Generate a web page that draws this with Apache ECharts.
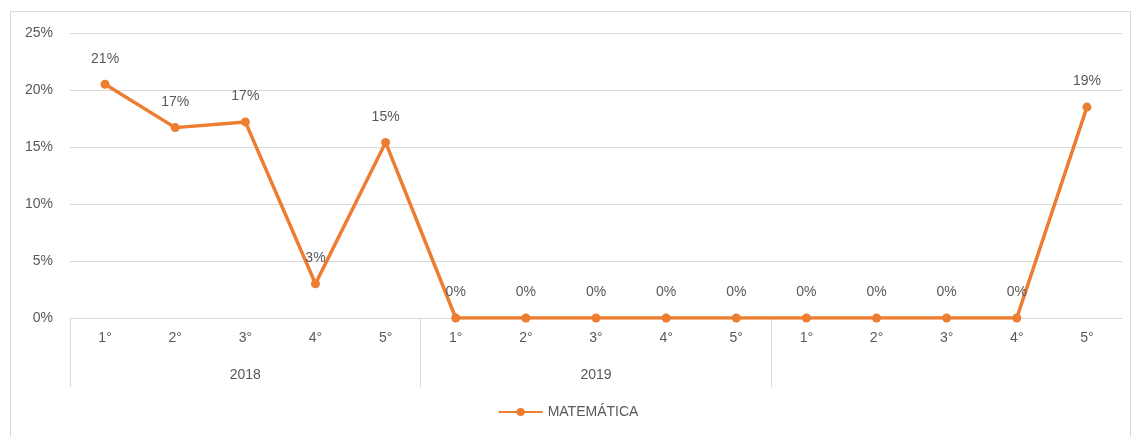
<!DOCTYPE html>
<html>
<head>
<meta charset="utf-8">
<script src="https://cdn.jsdelivr.net/npm/echarts@6/dist/echarts.min.js"></script>
<style>
  html, body { margin: 0; padding: 0; background: #fff; }
  #frame { position: absolute; left: 10px; top: 11px; width: 1119px; height: 440px; border: 1px solid #d9d9d9; }
  #chart { position: absolute; left: 0; top: 0; width: 1136px; height: 437px; }
</style>
</head>
<body>
<div id="frame"></div>
<div id="chart"></div>
<script>
// series values (%), one per grade inside each year
var grades = ['1°', '2°', '3°', '4°', '5°'];
var years = ['2018', '2019', ''];
var matematica = [20.5, 16.7, 17.2, 3.0, 15.4, 0, 0, 0, 0, 0, 0, 0, 0, 0, 18.5];
var yTicks = [0, 5, 10, 15, 20, 25];

var categories = [];
years.forEach(function () { categories = categories.concat(grades); });

// boundaries between year groups and their centers, in category units
var groupEdges = [];
var groupCenters = [];
years.forEach(function (y, i) {
    groupEdges.push(i * grades.length);
    groupCenters.push(i * grades.length + grades.length / 2);
});

var textColor = '#595959';
var lineColor = '#d9d9d9';
var font = 'Liberation Sans';
var chart = echarts.init(document.getElementById('chart'));

var option = {
    animation: false,
    grid: { left: 70, right: 14, top: 33, bottom: 119 },
    legend: {
        bottom: 13,
        left: 'center',
        itemWidth: 44,
        itemHeight: 10,
        itemGap: 4,
        textStyle: { color: textColor, fontSize: 14, fontFamily: font },
        data: ['MATEMÁTICA']
    },
    xAxis: [
        {
            type: 'category',
            data: categories,
            boundaryGap: true,
            axisLine: { lineStyle: { color: lineColor } },
            axisTick: { show: false },
            axisLabel: { color: textColor, fontSize: 14, margin: 13, fontFamily: font, interval: 0 }
        },
        {
            type: 'value',
            position: 'bottom',
            min: 0,
            max: categories.length,
            splitLine: { show: false },
            axisLine: { show: false },
            axisTick: { show: true, inside: false, length: 69, customValues: groupEdges, lineStyle: { color: lineColor } },
            axisLabel: {
                color: textColor, fontSize: 14, margin: 50, fontFamily: font,
                customValues: groupCenters,
                formatter: function (v) { return years[Math.floor(v / grades.length)]; }
            }
        }
    ],
    yAxis: {
        type: 'value',
        min: yTicks[0],
        max: yTicks[yTicks.length - 1],
        interval: 5,
        axisLine: { show: false },
        axisTick: { show: false },
        splitLine: { lineStyle: { color: lineColor } },
        axisLabel: { color: textColor, fontSize: 14, margin: 17, fontFamily: font, formatter: '{value}%' }
    },
    series: [
        {
            name: 'MATEMÁTICA',
            type: 'line',
            data: matematica,
            symbol: 'circle',
            symbolSize: 9,
            itemStyle: { color: '#ED7D31' },
            lineStyle: { color: '#ED7D31', width: 3.5 },
            label: {
                show: true,
                position: 'top',
                distance: 14,
                color: textColor,
                fontSize: 14,
                fontFamily: font,
                formatter: function (p) { return Math.round(p.value) + '%'; }
            }
        }
    ]
};
chart.setOption(option);
</script>
</body>
</html>
